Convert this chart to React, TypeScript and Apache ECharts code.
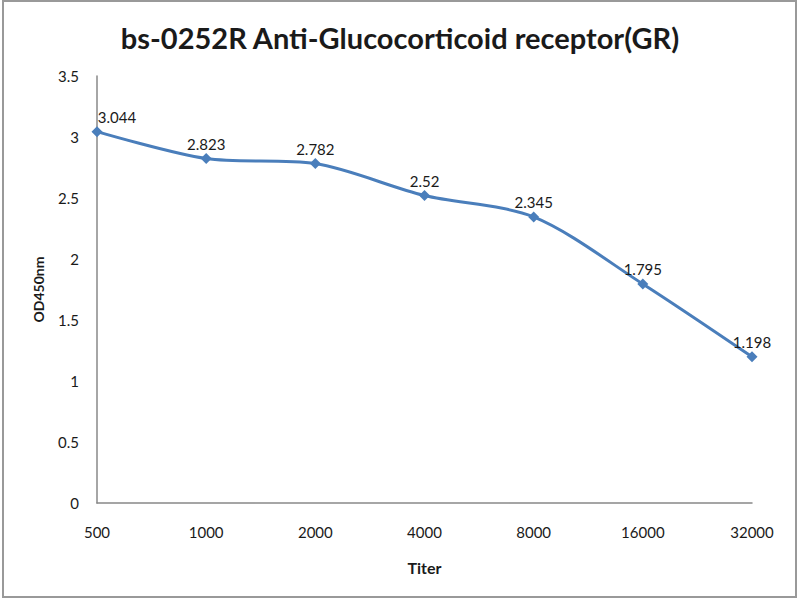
import * as echarts from "echarts"
import { useEffect, useRef } from "react"

const titers = ["500", "1000", "2000", "4000", "8000", "16000", "32000"]
const od450 = [3.044, 2.823, 2.782, 2.52, 2.345, 1.795, 1.198]

const font = "Lato, 'Open Sans', sans-serif"
const ink = "#1a1a1a"
const blue = "#4a7ebb"

export default function App() {
  const node = useRef<HTMLDivElement>(null)

  useEffect(() => {
    if (!node.current) return
    const chart = echarts.init(node.current, undefined, { renderer: "svg" })
    chart.setOption({
      animation: false,
      backgroundColor: "#fff",
      textStyle: { fontFamily: font, color: ink },
      title: {
        text: "bs-0252R Anti-Glucocorticoid receptor(GR)",
        left: "center",
        top: 18,
        textStyle: { fontFamily: font, fontSize: 29, fontWeight: "bold", color: ink },
      },
      graphic: [
        {
          type: "rect",
          shape: { x: 3, y: 1, width: 793, height: 596 },
          style: { fill: "none", stroke: "#999", lineWidth: 2 },
          silent: true,
        },
      ],
      grid: { left: 97, right: 48, top: 76, bottom: 97 },
      xAxis: {
        type: "category",
        data: titers,
        boundaryGap: false,
        name: "Titer",
        nameLocation: "middle",
        nameGap: 56,
        nameTextStyle: { fontFamily: font, fontSize: 16, fontWeight: "bold", color: ink },
        axisLine: { lineStyle: { color: "#888", width: 1.5 } },
        axisTick: { show: false },
        axisLabel: { color: ink, fontSize: 15, margin: 21 },
        splitLine: { show: false },
      },
      yAxis: {
        type: "value",
        min: 0,
        max: 3.5,
        interval: 0.5,
        name: "OD450nm",
        nameLocation: "middle",
        nameGap: 52,
        nameTextStyle: { fontFamily: font, fontSize: 14, fontWeight: "bold", color: ink },
        axisLine: { show: true, lineStyle: { color: "#888", width: 1.5 } },
        axisTick: { show: false },
        axisLabel: { color: ink, fontSize: 15, margin: 18 },
        splitLine: { show: false },
      },
      series: [
        {
          type: "line",
          data: od450.map((value, index) =>
            index === 0 ? { value, label: { offset: [20, 0] } } : value
          ),
          smooth: 0.3,
          symbol: "diamond",
          symbolSize: 11,
          lineStyle: { color: blue, width: 3 },
          itemStyle: { color: blue },
          label: {
            show: true,
            position: "top",
            distance: 2,
            fontSize: 15,
            color: ink,
            fontFamily: font,
          },
        },
      ],
    })
    return () => chart.dispose()
  }, [])

  return (
    <div
      ref={node}
      style={{ position: "fixed", left: 0, top: 0, width: 800, height: 600 }}
    />
  )
}
